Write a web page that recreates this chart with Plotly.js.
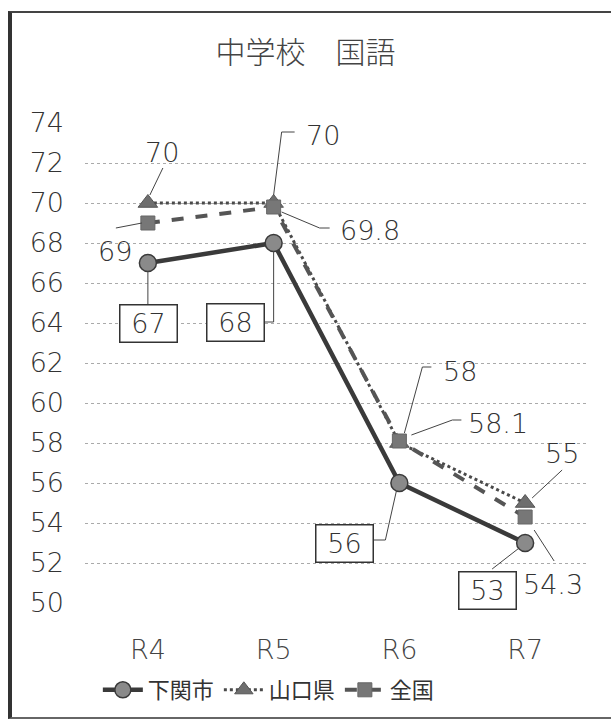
<!DOCTYPE html>
<html>
<head>
<meta charset="utf-8">
<script src="https://cdn.plot.ly/plotly-3.0.1.min.js"></script>
<style>
  html, body { margin: 0; padding: 0; background: #fff; }
  #wrap { position: relative; width: 611px; height: 722px; overflow: hidden; }
  #chart { position: absolute; left: 0; top: 0; width: 611px; height: 722px; }
  #frame { position: absolute; left: 8px; top: 11px; width: 620px; height: 704px;
           border-top: 2px solid #444; border-bottom: 2px solid #666;
           border-left: 4px solid #333; pointer-events: none; }
</style>
</head>
<body>
<div id="wrap">
  <div id="chart"></div>
  <div id="frame"></div>
</div>
<script>
// ---- data ----
const categories = ['R4', 'R5', 'R6', 'R7'];
const seriesNames = ['下関市', '山口県', '全国'];
const shimonoseki = [67, 68, 56, 53];
const yamaguchi = [70, 70, 58, 55];
const zenkoku = [69, 69.8, 58.1, 54.3];
const yTicks = [50, 52, 54, 56, 58, 60, 62, 64, 66, 68, 70, 72, 74];
const titleText = '中学校\u3000国語';

// ---- label placement (screen pixel offsets from each point, y down; style only) ----
const offShimo = [[1, 60], [-38, 79], [-55, 60], [-38, 47]];
const leadShimo = [
  [[0, 8], [0, 42]],
  [[0, 8], [0, 79], [-9, 79]],
  [[-3, 8], [-14, 57], [-26, 57]],
  [[-6, 5], [-33, 26]]
];
const offYama = [[14, -51], [49, -68], [61, -72], [37, -50]];
const leadYama = [
  [[2, -8], [15, -35]],
  [[0, -8], [8, -71], [21, -71]],
  [[5, -10], [23, -76], [32, -76]],
  [[7, -5], [37, -33]]
];
const offZen = [[-33, 28], [96, 23], [99, -18], [28, 67]];
const leadZen = [
  [[-6, 0], [-32, 5]],
  [[8, 5], [46, 21], [56, 21]],
  [[12, -6], [53, -21], [62, -21]],
  [[9, 13], [29, 44]]
];

const numFamily = 'DejaVu Sans, sans-serif';
const numFont = { family: numFamily, size: 27, color: '#333', weight: 200 };

const traces = [
  {
    name: seriesNames[0], x: categories, y: shimonoseki, type: 'scatter', mode: 'lines+markers',
    line: { color: '#3a3a3a', width: 4.5 },
    marker: { symbol: 'circle', size: 17, color: '#8a8a8a', line: { color: '#3a3a3a', width: 1.5 } }
  },
  {
    name: seriesNames[1], x: categories, y: yamaguchi, type: 'scatter', mode: 'lines+markers',
    line: { color: '#4a4a4a', width: 3, dash: 'dot' },
    marker: { symbol: 'triangle-up', size: 17, color: '#6e6e6e', line: { color: '#555', width: 1 } }
  },
  {
    name: seriesNames[2], x: categories, y: zenkoku, type: 'scatter', mode: 'lines+markers',
    line: { color: '#555', width: 4, dash: 'dash' },
    marker: { symbol: 'square', size: 14, color: '#777', line: { color: '#666', width: 1 } }
  }
];

const annotations = [];
const shapes = [];
function addLabels(vals, offs, leads, boxed) {
  vals.forEach((v, i) => {
    annotations.push({
      x: i, y: v, xref: 'x', yref: 'y',
      text: String(v), showarrow: false,
      xshift: offs[i][0], yshift: -offs[i][1],
      xanchor: 'center', yanchor: 'middle',
      font: numFont,
      width: boxed ? 50 : undefined, height: boxed ? 30 : undefined,
      bordercolor: boxed ? '#333' : 'rgba(0,0,0,0)', borderwidth: boxed ? 1.5 : 0, borderpad: 3,
      bgcolor: boxed ? '#fff' : 'rgba(0,0,0,0)'
    });
    const pts = leads[i];
    const path = pts.map((p, k) => (k === 0 ? 'M' : 'L') + p[0] + ',' + (-p[1])).join(' ');
    shapes.push({
      type: 'path', xref: 'x', yref: 'y', xsizemode: 'pixel', ysizemode: 'pixel',
      xanchor: i, yanchor: v, path: path,
      line: { color: '#444', width: 1 }, layer: 'above'
    });
  });
}
addLabels(shimonoseki, offShimo, leadShimo, true);
addLabels(yamaguchi, offYama, leadYama, false);
addLabels(zenkoku, offZen, leadZen, false);

const layout = {
  width: 611, height: 722,
  margin: { l: 85, r: 23, t: 123, b: 119 },
  paper_bgcolor: '#fff', plot_bgcolor: '#fff',
  showlegend: true,
  title: {
    text: titleText, x: 0.5, xanchor: 'center', xref: 'container',
    y: 1 - 52 / 722, yref: 'container', yanchor: 'middle',
    font: { family: 'Noto Sans CJK JP, sans-serif', size: 30, color: '#444', weight: 300 }
  },
  xaxis: {
    type: 'category', range: [-0.5, 3.5], showgrid: false, zeroline: false, showline: false,
    ticks: '', ticklabelstandoff: 28,
    tickfont: { family: numFamily, size: 27, color: '#444', weight: 200 }
  },
  yaxis: {
    range: [50, 74], tickvals: yTicks, ticktext: yTicks.map(String),
    showgrid: true, gridcolor: '#aaa', gridwidth: 1, griddash: 'dot',
    zeroline: false, showline: false, ticks: '', ticklabelstandoff: 20,
    tickfont: { family: numFamily, size: 27, color: '#333', weight: 200 }
  },
  legend: {
    orientation: 'h', x: 0.44, xanchor: 'center', xref: 'container',
    y: 1 - 690 / 722, yref: 'container', yanchor: 'middle',
    font: { family: 'Noto Sans CJK JP, sans-serif', size: 22, color: '#333' },
    itemwidth: 40, tracegroupgap: 0
  },
  annotations: annotations,
  shapes: shapes
};

Plotly.newPlot('chart', traces, layout, { displayModeBar: false, staticPlot: true });
</script>
</body>
</html>
